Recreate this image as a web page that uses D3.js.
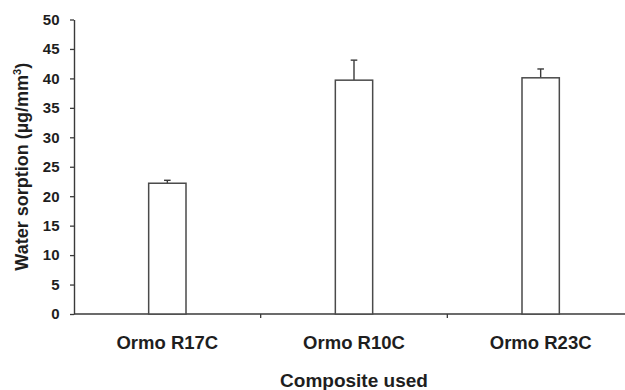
<!DOCTYPE html>
<html>
<head>
<meta charset="utf-8">
<script src="https://cdn.jsdelivr.net/npm/d3@7"></script>
<style>
  html, body { margin: 0; padding: 0; background: #fff; }
  svg { display: block; }
  text { font-family: "Liberation Sans", Arial, sans-serif; fill: #1e1e1e; }
</style>
</head>
<body>
<svg id="chart" width="625" height="390"></svg>
<script>
// Water sorption per composite, mean and SD (µg/mm³)
const categories = ["Ormo R17C", "Ormo R10C", "Ormo R23C"];
const means = [22.2, 39.7, 40.1];
const errors = [0.5, 3.4, 1.5];
const yTicks = [0, 5, 10, 15, 20, 25, 30, 35, 40, 45, 50];

const svg = d3.select("#chart");
const plotLeft = 74, plotRight = 634, plotTop = 19.5, plotBottom = 314;
const axisColor = "#3a3a3a";

const y = d3.scaleLinear().domain([0, 50]).range([plotBottom, plotTop]);
const x = d3.scaleBand().domain(categories).range([plotLeft, plotRight]).padding(0);
const barW = x.bandwidth() * 0.2;

// y axis
const yAxis = svg.append("g")
  .attr("transform", `translate(${plotLeft},0)`)
  .call(d3.axisLeft(y).tickValues(yTicks).tickSize(4).tickPadding(10.5).tickSizeOuter(0));
yAxis.select(".domain").attr("stroke", axisColor).attr("stroke-width", 1.4);
yAxis.selectAll(".tick line").attr("stroke", axisColor).attr("stroke-width", 1.3);
yAxis.selectAll(".tick text")
  .attr("font-size", 15).attr("font-weight", "bold")
  .attr("font-family", "Liberation Sans, Arial, sans-serif")
  .attr("fill", "#1e1e1e");

// x axis: line with ticks at category boundaries
const xg = svg.append("g");
xg.append("line")
  .attr("x1", plotLeft).attr("x2", plotRight)
  .attr("y1", plotBottom).attr("y2", plotBottom)
  .attr("stroke", axisColor).attr("stroke-width", 1.4);
xg.selectAll("line.sep")
  .data(categories.slice(1))
  .join("line")
  .attr("class", "sep")
  .attr("x1", d => x(d)).attr("x2", d => x(d))
  .attr("y1", plotBottom).attr("y2", plotBottom + 4)
  .attr("stroke", axisColor).attr("stroke-width", 1.3);
xg.selectAll("text.cat")
  .data(categories)
  .join("text")
  .attr("class", "cat")
  .attr("x", d => x(d) + x.bandwidth() / 2)
  .attr("y", 349)
  .attr("text-anchor", "middle")
  .attr("font-size", 18.5)
  .attr("font-weight", "bold")
  .text(d => d);

// error bars (upper only)
const eb = svg.append("g");
categories.forEach((c, i) => {
  const cx = x(c) + x.bandwidth() / 2;
  eb.append("line")
    .attr("x1", cx).attr("x2", cx)
    .attr("y1", y(means[i])).attr("y2", y(means[i] + errors[i]))
    .attr("stroke", "#3a3a3a").attr("stroke-width", 1.4);
  eb.append("line")
    .attr("x1", cx - 3.3).attr("x2", cx + 3.3)
    .attr("y1", y(means[i] + errors[i])).attr("y2", y(means[i] + errors[i]))
    .attr("stroke", "#3a3a3a").attr("stroke-width", 1.4);
});

// bars
svg.append("g").selectAll("rect")
  .data(categories)
  .join("rect")
  .attr("x", d => x(d) + (x.bandwidth() - barW) / 2)
  .attr("y", (d, i) => y(means[i]))
  .attr("width", barW)
  .attr("height", (d, i) => y(0) - y(means[i]))
  .attr("fill", "#fff")
  .attr("stroke", "#4a4a4a")
  .attr("stroke-width", 1.5);

// axis titles
svg.append("text")
  .attr("x", (plotLeft + plotRight) / 2)
  .attr("y", 386.5)
  .attr("text-anchor", "middle")
  .attr("font-size", 19)
  .attr("font-weight", "bold")
  .attr("fill", "#111")
  .text("Composite used");

const yt = svg.append("text")
  .attr("transform", `translate(28,${(plotTop + plotBottom) / 2}) rotate(-90)`)
  .attr("text-anchor", "middle")
  .attr("font-size", 18)
  .attr("font-weight", "bold")
  .attr("fill", "#2a2a2a");
yt.append("tspan").text("Water sorption (µg/mm");
yt.append("tspan").attr("font-size", 11).attr("dy", -7).text("3");
yt.append("tspan").attr("dy", 7).text(")");
</script>
</body>
</html>
